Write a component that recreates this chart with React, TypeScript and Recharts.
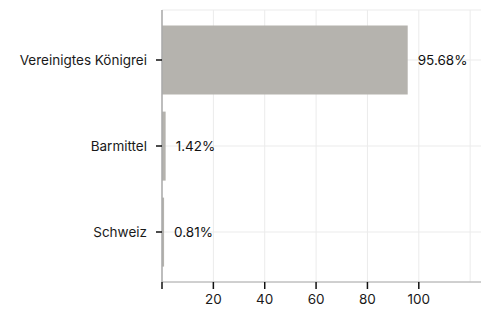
import { Bar, BarChart, CartesianGrid, LabelList, ReferenceLine, XAxis, YAxis } from "recharts";

const categories = ["Vereinigtes Königrei", "Barmittel", "Schweiz"];
const shares = [95.68, 1.42, 0.81];
const xTicks = [0, 20, 40, 60, 80, 100];

const data = categories.map((name, i) => ({ name, share: shares[i] }));

const FONT = "Inter, 'Noto Sans', sans-serif";
const BAR_COLOR = "#b5b3ae";
const GRID_COLOR = "#ebebeb";

export default function App() {
  return (
    <div style={{ width: 481, height: 308, fontFamily: FONT }}>
      <BarChart
        width={481}
        height={308}
        data={data}
        layout="vertical"
        margin={{ top: 2, right: 6, bottom: 0, left: 0 }}
        barCategoryGap="10%"
      >
        <CartesianGrid stroke={GRID_COLOR} strokeWidth={1} />
        <ReferenceLine x={120} stroke={GRID_COLOR} />
        <XAxis
          type="number"
          domain={[0, 125]}
          ticks={xTicks}
          tickFormatter={(v: number) => (v === 0 ? "" : String(v))}
          stroke="#aaaaaa"
          tickLine={{ stroke: "#111", strokeWidth: 1.5 }}
          tickSize={7}
          tickMargin={5}
          tick={{ fill: "#1a1a1a", fontSize: 13.5, fontFamily: FONT }}
          height={34}
        />
        <YAxis
          type="category"
          dataKey="name"
          width={154}
          stroke="#aaaaaa"
          strokeWidth={1.5}
          tickLine={{ stroke: "#111", strokeWidth: 1.5 }}
          tickSize={6}
          tickMargin={9}
          padding={{ top: 7, bottom: 7 }}
          tick={{ fill: "#1a1a1a", fontSize: 13.5, fontFamily: FONT }}
        />
        <Bar dataKey="share" fill={BAR_COLOR} isAnimationActive={false}>
          <LabelList
            dataKey="share"
            position="right"
            offset={10}
            formatter={(v: number) => `${v.toFixed(2)}%`}
            style={{ fill: "#111", fontSize: 13.5, fontFamily: FONT }}
          />
        </Bar>
      </BarChart>
    </div>
  );
}
